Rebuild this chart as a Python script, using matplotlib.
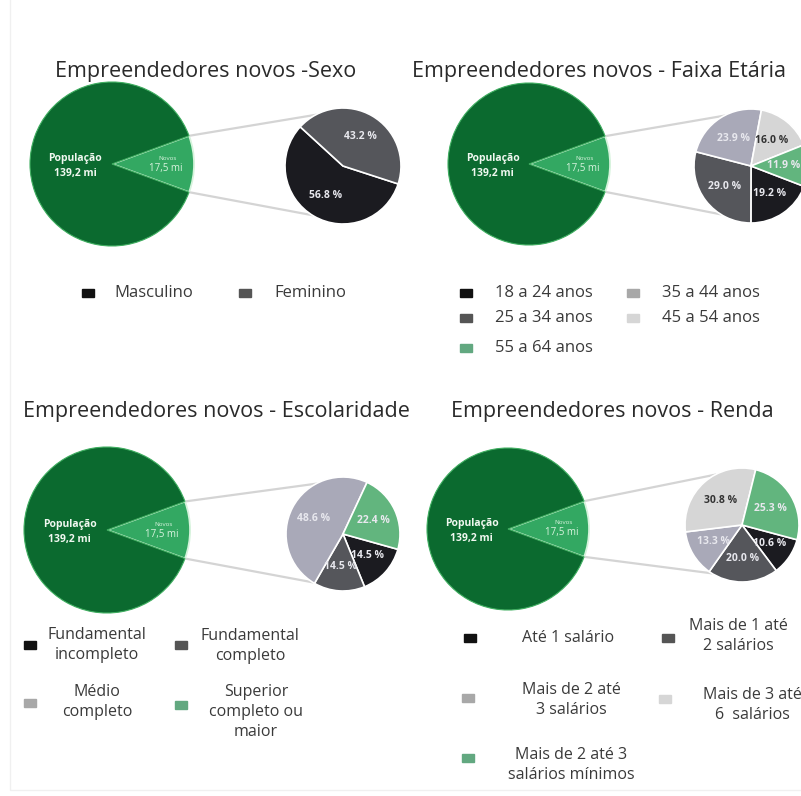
import numpy as np
import matplotlib.pyplot as plt
from matplotlib.patches import Rectangle

# dados
pop_total = 139.2
pop_novos = 17.5

sexo_labels = ['Masculino', 'Feminino']
sexo_vals = [56.8, 43.2]

idade_labels = ['18 a 24 anos', '25 a 34 anos', '35 a 44 anos', '45 a 54 anos', '55 a 64 anos']
idade_vals = [19.2, 29.0, 23.9, 16.0, 11.9]

escol_labels = ['Fundamental\nincompleto', 'Fundamental\ncompleto', 'Médio\ncompleto',
                'Superior\ncompleto ou\nmaior']
escol_vals = [14.5, 14.5, 48.6, 22.4]

renda_labels = ['Até 1 salário', 'Mais de 1 até\n2 salários', 'Mais de 2 até\n3 salários',
                'Mais de 3 até\n6  salários', 'Mais de 2 até 3\nsalários mínimos']
renda_vals = [10.6, 20.0, 13.3, 30.8, 25.3]

# cores
verde_esc = '#0b6a2f'
verde_cl = '#33a862'
preto = '#1b1b20'
cinza_esc = '#55565b'
lavanda = '#a9a9b8'
cinza_cl = '#d6d6d6'
verde_sm = '#62b57e'
cores5 = [preto, cinza_esc, lavanda, cinza_cl, verde_sm]
cores_leg = ['#111111', '#555555', '#a8a8a8', '#d6d6d6', '#62a880']

W, H = 801, 796
plt.rcParams['font.family'] = ['Open Sans', 'DejaVu Sans']

fig = plt.figure(figsize=(W / 100, H / 100), dpi=100)
ax = fig.add_axes([0, 0, 1, 1])


def Y(py):
    return H - py


def painel(titulo, tx, ty, ha, big_c, big_r, small_c, small_r, vals, cores, start):
    ax.text(tx, Y(ty), titulo, ha=ha, va='center', fontsize=15.5, color='#2a2a2a')

    # pizza principal
    ang = pop_novos / (pop_total + pop_novos) * 360
    w, _ = ax.pie([pop_novos, pop_total], colors=[verde_cl, verde_esc],
                  startangle=-ang / 2, center=(big_c[0], Y(big_c[1])), radius=big_r,
                  explode=[0.05, 0], normalize=True,
                  wedgeprops=dict(edgecolor='#d6f3dc', linewidth=1.3))
    w[1].set_edgecolor('#3fae60')
    w[1].set_linewidth(0.8)
    cx, cy = big_c[0], Y(big_c[1])
    ax.text(cx - big_r * 0.45, cy - 2, 'População\n139,2 mi', ha='center', va='center',
            fontsize=7.5, fontweight='bold', color='#f0f8f0', linespacing=1.6)
    ax.text(cx + big_r * 0.68, cy + 6, 'Novos', ha='center', va='center',
            fontsize=4.5, color='#d8f3de')
    ax.text(cx + big_r * 0.66, cy - 4, '17,5 mi', ha='center', va='center',
            fontsize=7, color='#d8f3de')

    # linhas de ligação
    wc = w[0].center
    p1 = (wc[0] + w[0].r * np.cos(np.radians(w[0].theta2)),
          wc[1] + w[0].r * np.sin(np.radians(w[0].theta2)))
    p2 = (wc[0] + w[0].r * np.cos(np.radians(w[0].theta1)),
          wc[1] + w[0].r * np.sin(np.radians(w[0].theta1)))
    sx, sy = small_c[0], Y(small_c[1])
    q1 = (sx + small_r * np.cos(np.radians(118)), sy + small_r * np.sin(np.radians(118)))
    q2 = (sx + small_r * np.cos(np.radians(238)), sy + small_r * np.sin(np.radians(238)))
    ax.plot([p1[0], q1[0]], [p1[1], q1[1]], color='#d4d4d4', lw=1.6, zorder=0)
    ax.plot([p2[0], q2[0]], [p2[1], q2[1]], color='#d4d4d4', lw=1.6, zorder=0)

    # pizza secundária
    w2, _, at = ax.pie(vals, colors=cores, startangle=start, counterclock=False,
                       center=(sx, sy), radius=small_r, autopct=lambda p: f'{p:.1f} %',
                       pctdistance=0.58,
                       wedgeprops=dict(edgecolor='white', linewidth=1.2),
                       textprops=dict(fontsize=7.5, fontweight='bold'))
    for t, c in zip(at, cores):
        t.set_color('#333333' if c == cinza_cl else '#e8e8ee')


def legenda(itens, cores, sq_xy, txt_xy, ha='left', fs=12):
    for lab, c, (sxp, syp), (tx, ty) in zip(itens, cores, sq_xy, txt_xy):
        ax.add_patch(Rectangle((sxp - 6, Y(syp) - 4), 12, 8, color=c))
        ax.text(tx, Y(ty), lab, ha=ha, va='center', fontsize=fs, color='#3a3a3a',
                linespacing=1.3, multialignment='center')


painel('Empreendedores novos -Sexo', 206, 72, 'center', (112, 164), 82, (343, 166), 58,
       sexo_vals, [preto, cinza_esc], -18)
painel('Empreendedores novos - Faixa Etária', 412, 72, 'left', (529, 164), 81, (751, 166), 57,
       idade_vals, cores5, -21)
painel('Empreendedores novos - Escolaridade', 216, 411, 'center', (107, 530), 83, (343, 534), 57,
       escol_vals, [preto, cinza_esc, lavanda, verde_sm], -15.6)
painel('Empreendedores novos - Renda', 612, 411, 'center', (508, 529), 81, (742, 525), 57,
       renda_vals, cores5, -15)

legenda(sexo_labels, cores_leg[:2], [(88, 293), (245, 293)], [(114, 293), (274, 293)])
legenda(idade_labels, [cores_leg[i] for i in range(5)],
        [(466, 293), (466, 318), (633, 293), (633, 318), (466, 348)],
        [(495, 293), (495, 318), (662, 293), (662, 318), (495, 348)])
legenda(escol_labels, [cores_leg[0], cores_leg[1], cores_leg[2], cores_leg[4]],
        [(30, 645), (181, 645), (30, 703), (181, 705)],
        [(97, 645), (250, 646), (97, 702), (256, 712)], ha='center', fs=11.5)
legenda(renda_labels, cores_leg,
        [(470, 638), (668, 638), (468, 698), (665, 699), (468, 758)],
        [(568, 638), (738, 636), (571, 700), (752, 705), (571, 765)], ha='center', fs=11.5)

ax.add_patch(Rectangle((10, 6), W, H, fill=False, edgecolor='#f0f0f0', lw=1))
ax.set_xlim(0, W)
ax.set_ylim(0, H)
ax.set_aspect('equal')
ax.axis('off')

fig.savefig('out.png', dpi=100, facecolor='white')
